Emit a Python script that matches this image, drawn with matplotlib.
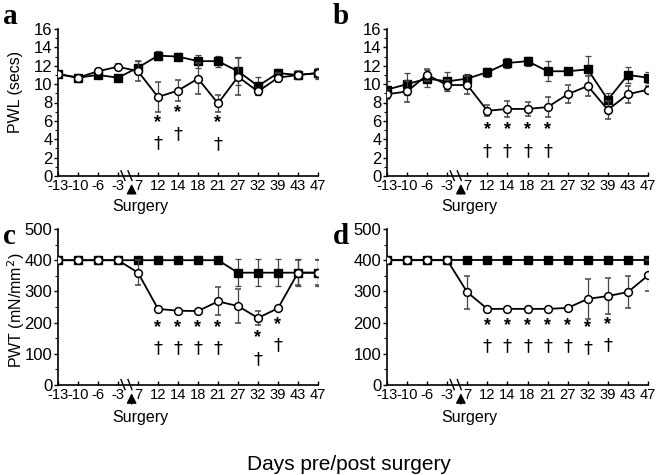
import matplotlib
matplotlib.use("Agg")
import matplotlib.pyplot as plt
import numpy as np

plt.rcParams['font.family'] = ['Liberation Sans', 'DejaVu Sans']

days = ['-13', '-10', '-6', '-3', '7', '12', '14', '18', '21', '27', '32', '39', '43', '47']

# Panel a (PWL)
a_sq = [11.1, 10.7, 11.0, 10.7, 11.8, 13.1, 13.0, 12.5, 12.5, 11.4, 9.8, 11.2, 11.0, 11.2]
a_sq_err = [0.3, 0.2, 0.3, 0.3, 0.7, 0.5, 0.4, 0.7, 0.6, 1.5, 1.0, 0.4, 0.4, 0.6]
a_ci = [11.1, 10.7, 11.4, 11.9, 11.4, 8.6, 9.3, 10.6, 7.9, 10.8, 9.2, 10.7, 11.0, 11.2]
a_ci_err = [0.3, 0.2, 0.3, 0.3, 1.1, 1.6, 1.1, 1.7, 0.9, 2.0, 0.4, 0.5, 0.4, 0.5]
a_star_idx = [5, 6, 8]
a_star_y = [5.8, 6.9, 5.8]
a_dag_y = [3.6, 4.6, 3.5]

# Panel b (PWL)
b_sq = [9.4, 10.0, 10.6, 10.3, 10.6, 11.3, 12.3, 12.5, 11.4, 11.4, 11.6, 8.3, 11.0, 10.7]
b_sq_err = [0.9, 1.2, 0.9, 1.0, 0.5, 0.5, 0.5, 0.5, 1.1, 0.3, 1.5, 0.7, 0.9, 0.6]
b_ci = [8.9, 9.2, 11.0, 9.9, 9.9, 7.1, 7.3, 7.3, 7.5, 8.9, 9.8, 7.2, 8.9, 9.4]
b_ci_err = [0.5, 1.1, 0.7, 0.5, 1.0, 0.6, 0.9, 0.8, 1.1, 1.0, 1.1, 1.0, 0.9, 0.4]
b_star_idx = [5, 6, 7, 8]
b_star_y = [5.1, 5.1, 5.1, 5.1]
b_dag_y = [2.7, 2.7, 2.7, 2.7]

# Panel c (PWT)
c_sq = [400, 400, 400, 400, 400, 400, 400, 400, 400, 360, 360, 360, 360, 360]
c_sq_err = [0, 0, 0, 0, 0, 0, 0, 0, 0, 43, 43, 43, 43, 43]
c_ci = [400, 400, 400, 400, 360, 244, 238, 237, 268, 253, 215, 246, 360, 360]
c_ci_err = [0, 0, 0, 0, 40, 3, 3, 3, 45, 55, 22, 4, 40, 40]
c_star_idx = [5, 6, 7, 8, 10, 11]
c_star_y = [185, 185, 185, 185, 153, 194]
c_dag_y = [117, 117, 117, 117, 82, 128]

# Panel d (PWT)
d_sq = [400] * 14
d_sq_err = [0] * 14
d_ci = [400, 400, 400, 400, 297, 244, 244, 244, 244, 247, 276, 285, 298, 351]
d_ci_err = [0, 0, 0, 0, 52, 3, 3, 3, 3, 4, 63, 58, 51, 50]
d_star_idx = [5, 6, 7, 8, 9, 10, 11]
d_star_y = [192, 192, 192, 192, 192, 185, 193]
d_dag_y = [123, 123, 123, 123, 123, 117, 128]

fig = plt.figure(figsize=(6.61, 4.75), dpi=100)

W, H = 661, 475
def rect(x0, x1, ytop, ybot):
    return [x0 / W, 1 - ybot / H, (x1 - x0) / W, (ybot - ytop) / H]

panels = [
    (rect(58, 318, 29, 176), a_sq, a_sq_err, a_ci, a_ci_err, a_star_idx, a_star_y, a_dag_y, 16, 2, 1, 'a', (3, 16)),
    (rect(387, 648, 29, 176), b_sq, b_sq_err, b_ci, b_ci_err, b_star_idx, b_star_y, b_dag_y, 16, 2, 1, 'b', (333, 16)),
    (rect(58, 318, 229, 385), c_sq, c_sq_err, c_ci, c_ci_err, c_star_idx, c_star_y, c_dag_y, 500, 100, 50, 'c', (3, 236)),
    (rect(387, 648, 229, 385), d_sq, d_sq_err, d_ci, d_ci_err, d_star_idx, d_star_y, d_dag_y, 500, 100, 50, 'd', (333, 236)),
]

x = np.arange(len(days))
fs = 12
for (r, sq, sqe, ci, cie, sidx, sy, dy, ymax, ystep, yminor, letter, lpos) in panels:
    ax = fig.add_axes(r)
    ax.errorbar(x, sq, yerr=sqe, fmt='-s', color='black', mfc='black', mec='black',
                ms=6.3, lw=1.3, elinewidth=0.9, capsize=2, capthick=0.9, zorder=3,
                ecolor='#444444')
    ax.errorbar(x, ci, yerr=cie, fmt='-o', color='black', mfc='white', mec='black',
                ms=5.6, mew=1.1, lw=1.3, elinewidth=0.9, capsize=2, capthick=0.9, zorder=4,
                ecolor='#444444')
    for i, ys, yd in zip(sidx, sy, dy):
        ax.text(x[i], ys, '*', ha='center', va='center', fontsize=13, fontweight='bold')
        ax.text(x[i], yd, '†', ha='center', va='center', fontsize=13, family='DejaVu Sans')
    ax.set_xlim(0, len(days) - 1)
    ax.set_ylim(0, ymax)
    ax.set_yticks(np.arange(0, ymax + 1, ystep))
    ax.set_yticks(np.arange(0, ymax + 1, yminor), minor=True)
    ax.set_xticks(x)
    ax.set_xticklabels(days, fontsize=10.6)
    ax.spines['top'].set_visible(False)
    ax.spines['right'].set_visible(False)
    ax.spines['left'].set_linewidth(1.2)
    ax.spines['bottom'].set_linewidth(1.2)
    ax.tick_params(axis='x', direction='in', length=3, width=1, pad=2.5)
    ax.tick_params(axis='y', which='major', direction='out', length=3, width=1, pad=1, labelsize=fs)
    ax.tick_params(axis='y', which='minor', direction='out', length=2, width=0.8)
    # axis break marks
    for bx in (3.2, 3.55):
        ax.plot([bx - 0.05, bx + 0.15], [0.035, -0.03], transform=ax.get_xaxis_transform(),
                color='black', lw=1.0, clip_on=False, zorder=5)
    # surgery arrow
    ax.annotate('', xy=(3.68, -0.035), xycoords=('data', 'axes fraction'),
                xytext=(3.68, -0.14), textcoords=('data', 'axes fraction'),
                arrowprops=dict(arrowstyle='-|>,head_length=0.6,head_width=0.3', color='black', lw=1.0))
    ax.text(4.1, -0.21, 'Surgery', transform=ax.get_xaxis_transform(), ha='center', va='center',
            fontsize=11.5)
    fig.text(lpos[0] / W, 1 - lpos[1] / H, letter, fontsize=21, fontweight='bold',
             family='Liberation Serif', ha='left', va='center')

fig.text(16 / W, 1 - 92 / H, 'PWL (secs)', rotation=90, ha='center', va='center', fontsize=11.5)
fig.text(16 / W, 1 - 310 / H, 'PWT (mN/mm$^2$)', rotation=90, ha='center', va='center', fontsize=11.5)
fig.text(349 / W, 1 - 465 / H, 'Days pre/post surgery', ha='center', va='center', fontsize=15)

fig.savefig('out.png', dpi=100)
